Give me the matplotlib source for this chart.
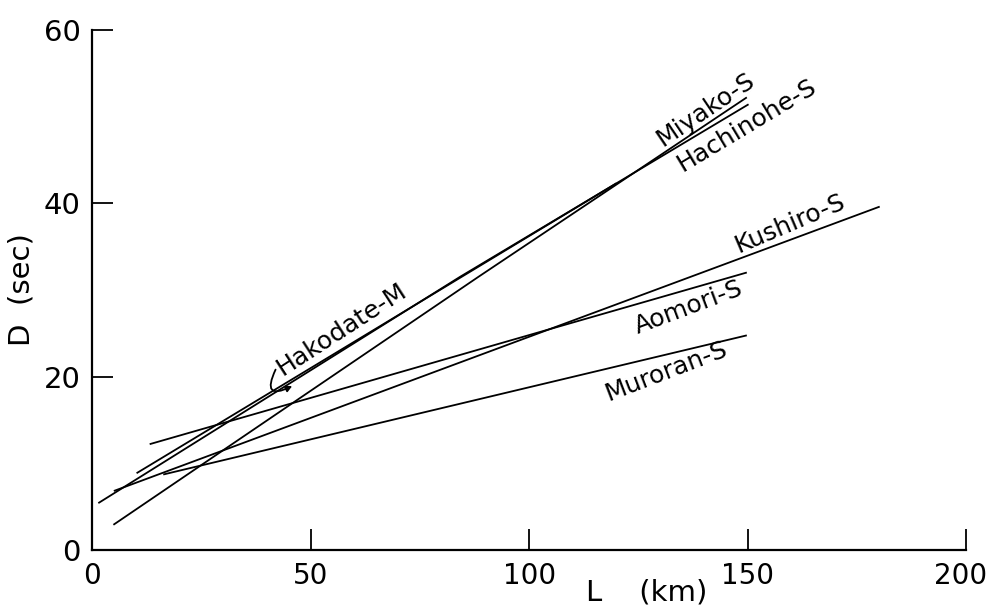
import matplotlib
matplotlib.use("Agg")
import matplotlib.pyplot as plt
import matplotlib.transforms as mtransforms

# ---- data ----
miyako_L = [4.9, 88.4, 149.8]
miyako_D = [2.9, 31.5, 52.2]
hachinohe_L = [1.45, 84.2, 150.2]
hachinohe_D = [5.4, 31.5, 51.4]
hakodate_L = [10.2, 57.0, 120.0]
hakodate_D = [8.85, 23.1, 42.3]
kushiro_L = [5.0, 180.2]
kushiro_D = [6.8, 39.6]
aomori_L = [13.2, 149.8]
aomori_D = [12.2, 32.0]
muroran_L = [16.3, 149.8]
muroran_D = [8.7, 24.75]

x_ticks = [0, 50, 100, 150, 200]
y_ticks = [0, 20, 40, 60]

# label text, position (data coords), rotation
labels = [
    ("Miyako-S", 140.3, 50.8, 34),
    ("Hachinohe-S", 149.7, 49.0, 31),
    ("Kushiro-S", 159.7, 37.6, 23),
    ("Aomori-S", 136.4, 28.0, 20.5),
    ("Muroran-S", 131.4, 20.6, 21),
    ("Hakodate-M", 57.0, 25.5, 33),
]

plt.rcParams['font.family'] = ['DejaVu Sans']

fig = plt.figure(figsize=(9.89, 6.07), dpi=100)
ax = fig.add_axes([0.093, 0.094, 0.884, 0.857])

lw = 1.3
for L, D in [(miyako_L, miyako_D), (hachinohe_L, hachinohe_D),
             (hakodate_L, hakodate_D), (kushiro_L, kushiro_D),
             (aomori_L, aomori_D), (muroran_L, muroran_D)]:
    ax.plot(L, D, color='black', lw=lw, solid_capstyle='butt')

for txt, x, y, rot in labels:
    ax.text(x, y, txt, rotation=rot, rotation_mode='anchor',
            ha='center', va='center', fontsize=18, color='black')

# hook arrow for Hakodate-M
ax.annotate("", xy=(45.8, 18.9), xytext=(42.0, 20.8),
            arrowprops=dict(arrowstyle='-|>,head_length=0.35,head_width=0.18',
                            color='black', lw=1.3,
                            connectionstyle='arc3,rad=1.4',
                            shrinkA=0, shrinkB=0))

ax.set_xlim(0, 200)
ax.set_ylim(0, 60)
ax.set_xticks(x_ticks)
ax.set_yticks(y_ticks)
ax.set_xticklabels([str(t) for t in x_ticks], fontsize=20)
ax.set_yticklabels([str(t) for t in y_ticks], fontsize=21)
ax.tick_params(direction='in', length=15, width=1.3, pad=8)
ax.tick_params(axis='x', pad=9)

# nudge the last x tick label left so it stays inside the figure
last = ax.get_xticklabels()[-1]
last.set_transform(last.get_transform() +
                   mtransforms.ScaledTranslation(-6 / 100, 0, fig.dpi_scale_trans))

for s in ['top', 'right']:
    ax.spines[s].set_visible(False)
for s in ['left', 'bottom']:
    ax.spines[s].set_linewidth(1.6)

ax.set_ylabel("D  (sec)", fontsize=21, labelpad=6)
fig.text(0.654, 0.0, "L    (km)", fontsize=21, ha='center', va='bottom')

fig.savefig("out.png", dpi=100)
